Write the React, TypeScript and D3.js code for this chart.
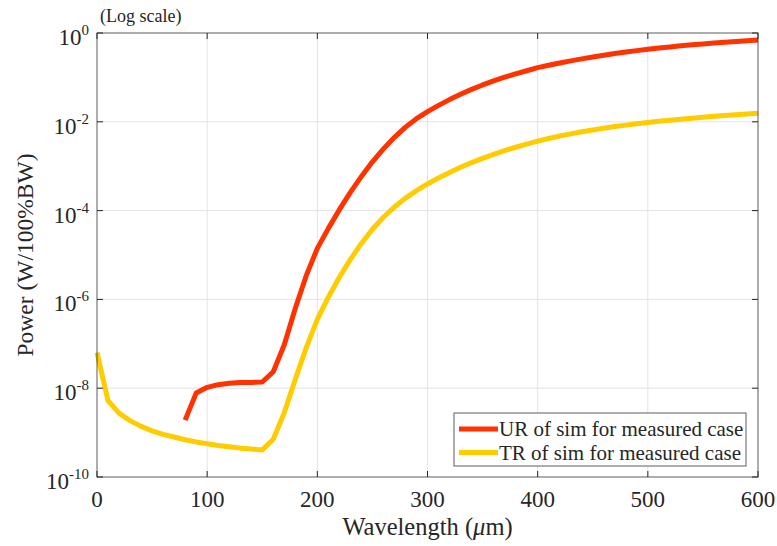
import { useEffect } from 'react';
import * as d3 from 'd3';

const W = 777, H = 546;
const ML = 97, MR = 19, MT = 33, MB = 69;
const INNER_W = W - ML - MR;
const INNER_H = H - MT - MB;

// wavelength (um) and log10(power)
const urWavelength = [
  80, 90, 100, 110, 120, 130, 140, 150, 160, 170, 180, 190, 200, 210, 220, 230, 240, 250,
  260, 270, 280, 290, 300, 310, 320, 330, 340, 350, 360, 370, 380, 390, 400, 410, 420, 430,
  440, 450, 460, 470, 480, 490, 500, 510, 520, 530, 540, 550, 560, 570, 580, 590, 600,
];
const urLog = [
  -8.72, -8.11, -7.98, -7.92, -7.89, -7.87, -7.87, -7.86, -7.63, -7.02, -6.2, -5.46, -4.85,
  -4.4, -3.98, -3.59, -3.23, -2.9, -2.61, -2.35, -2.12, -1.93, -1.77, -1.63, -1.5, -1.38,
  -1.27, -1.17, -1.08, -0.995, -0.92, -0.85, -0.78, -0.725, -0.675, -0.627, -0.582, -0.54,
  -0.5, -0.463, -0.429, -0.397, -0.367, -0.339, -0.313, -0.289, -0.267, -0.246, -0.226,
  -0.207, -0.189, -0.172, -0.156,
];
const trWavelength = [
  0, 10, 20, 30, 40, 50, 60, 70, 80, 90, 100, 110, 120, 130, 140, 150, 160, 170, 180, 190,
  200, 210, 220, 230, 240, 250, 260, 270, 280, 290, 300, 310, 320, 330, 340, 350, 360, 370,
  380, 390, 400, 410, 420, 430, 440, 450, 460, 470, 480, 490, 500, 510, 520, 530, 540, 550,
  560, 570, 580, 590, 600,
];
const trLog = [
  -7.2, -8.28, -8.56, -8.73, -8.86, -8.96, -9.04, -9.1, -9.16, -9.21, -9.25, -9.29, -9.32,
  -9.35, -9.37, -9.39, -9.15, -8.55, -7.8, -7.08, -6.45, -5.95, -5.5, -5.1, -4.74, -4.42,
  -4.15, -3.92, -3.72, -3.55, -3.4, -3.265, -3.14, -3.025, -2.92, -2.823, -2.733, -2.65,
  -2.573, -2.502, -2.436, -2.376, -2.321, -2.271, -2.225, -2.183, -2.144, -2.108, -2.075,
  -2.044, -2.015, -1.988, -1.963, -1.94, -1.918, -1.897, -1.877, -1.858, -1.84, -1.822,
  -1.805,
];

const xTicks = [0, 100, 200, 300, 400, 500, 600];
const yTickExps = [0, -2, -4, -6, -8, -10];
const seriesNames = ['UR of sim for measured case', 'TR of sim for measured case'];
const seriesColors = ['#ff3300', '#ffcc00'];

const FONT = "'Liberation Serif', 'DejaVu Serif', serif";
const AXIS = '#262626';

export default function App() {
  useEffect(() => {
    document.body.style.margin = '0';
  }, []);

  const x = d3.scaleLinear().domain([0, 600]).range([0, INNER_W]);
  const y = d3.scaleLog().domain([1e-10, 1]).range([INNER_H, 0]);

  const line = d3.line<[number, number]>()
    .x((d) => x(d[0]))
    .y((d) => y(Math.pow(10, d[1])));

  const series = [
    urWavelength.map((w, i) => [w, urLog[i]] as [number, number]),
    trWavelength.map((w, i) => [w, trLog[i]] as [number, number]),
  ];

  const TICK = 6;

  return (
    <svg width={W} height={H} fontFamily={FONT} style={{ display: 'block' }}>
      <rect width={W} height={H} fill="#fff" />
      <text x={ML + 3} y={22} fontSize={18} fontFamily={FONT} fill={AXIS}>(Log scale)</text>
      <g transform={`translate(${ML},${MT})`}>
        {/* grid */}
        {xTicks.slice(1, -1).map((t) => (
          <line key={`gx${t}`} x1={x(t)} x2={x(t)} y1={0} y2={INNER_H} stroke="#e3e3e3" strokeWidth={1} />
        ))}
        {yTickExps.slice(1, -1).map((e) => (
          <line key={`gy${e}`} x1={0} x2={INNER_W} y1={y(Math.pow(10, e))} y2={y(Math.pow(10, e))} stroke="#e3e3e3" strokeWidth={1} />
        ))}

        {/* data */}
        {series.map((s, i) => (
          <path key={i} d={line(s) || ''} fill="none" stroke={seriesColors[i]} strokeWidth={5} strokeLinejoin="round" />
        ))}

        {/* box */}
        <rect x={0} y={0} width={INNER_W} height={INNER_H} fill="none" stroke={AXIS} strokeOpacity={0.75} strokeWidth={1} />

        {/* x ticks */}
        {xTicks.map((t) => (
          <g key={`xt${t}`}>
            <line x1={x(t)} x2={x(t)} y1={INNER_H} y2={INNER_H - TICK} stroke={AXIS} />
            <line x1={x(t)} x2={x(t)} y1={0} y2={TICK} stroke={AXIS} />
            <text x={x(t)} y={INNER_H + 30} fontSize={23} fontFamily={FONT} textAnchor="middle" fill={AXIS}>{t}</text>
          </g>
        ))}

        {/* y ticks */}
        {yTickExps.map((e) => {
          const yy = y(Math.pow(10, e));
          return (
            <g key={`yt${e}`}>
              <line x1={0} x2={TICK} y1={yy} y2={yy} stroke={AXIS} />
              <line x1={INNER_W} x2={INNER_W - TICK} y1={yy} y2={yy} stroke={AXIS} />
              <text x={-8} y={yy + 12} fontSize={23} fontFamily={FONT} textAnchor="end" fill={AXIS}>
                10<tspan fontSize={15} dy={-10}>{e}</tspan>
              </text>
            </g>
          );
        })}

        {/* axis titles */}
        <text x={INNER_W / 2} y={INNER_H + 58} fontSize={24.5} fontFamily={FONT} textAnchor="middle" fill={AXIS}>
          Wavelength (<tspan fontStyle="italic">μ</tspan>m)
        </text>
        <text transform={`translate(${-64},${INNER_H / 2}) rotate(-90)`} fontSize={23.5} fontFamily={FONT} textAnchor="middle" fill={AXIS}>
          Power (W/100%BW)
        </text>

        {/* legend */}
        <g transform={`translate(${357},${380})`}>
          <rect x={0} y={0} width={292} height={53} fill="#fff" stroke={AXIS} strokeOpacity={0.75} />
          {seriesNames.map((n, i) => (
            <g key={n} transform={`translate(0,${16 + i * 23.5})`}>
              <line x1={5} x2={44} y1={0} y2={0} stroke={seriesColors[i]} strokeWidth={5} />
              <text x={45} y={7} fontSize={21} fontFamily={FONT} fill={AXIS}>{n}</text>
            </g>
          ))}
        </g>
      </g>
    </svg>
  );
}
